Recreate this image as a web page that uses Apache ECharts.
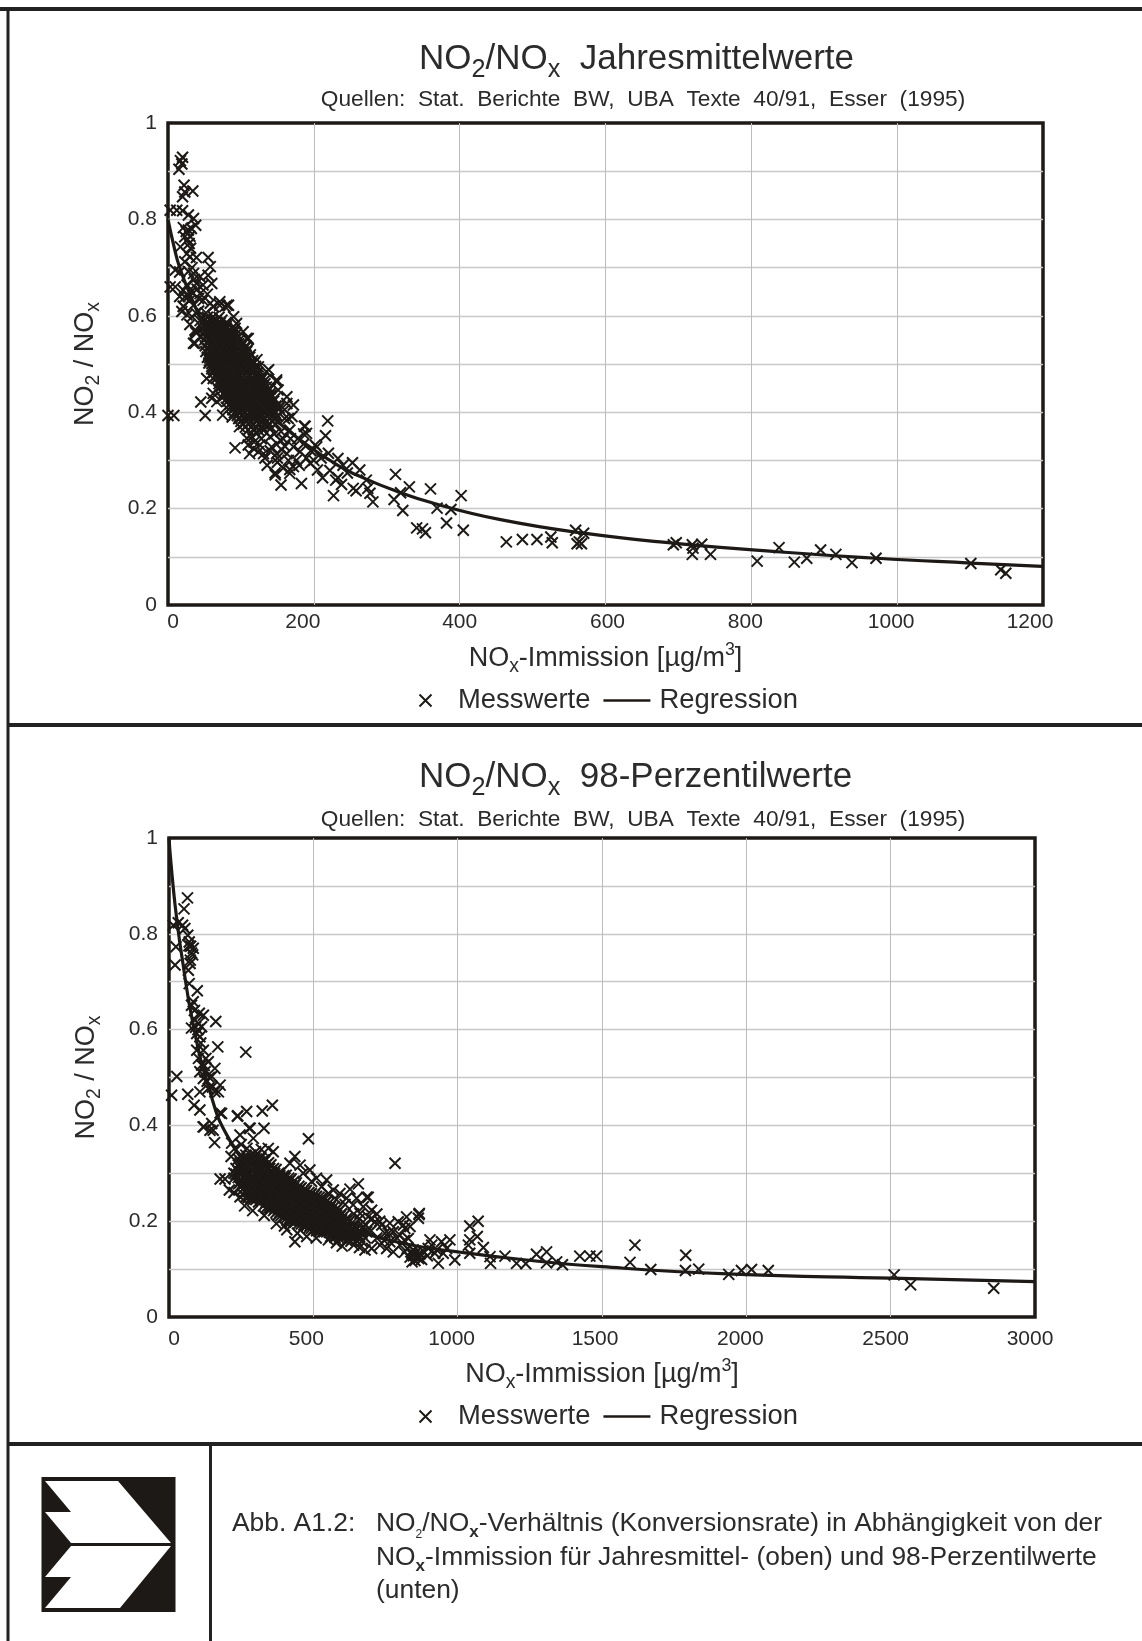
<!DOCTYPE html>
<html>
<head>
<meta charset="utf-8">
<title>NO2/NOx</title>
<script src="https://cdn.jsdelivr.net/npm/echarts@6/dist/echarts.min.js"></script>
<style>
  html, body { margin: 0; padding: 0; background: #fff; }
  #chart { width: 1142px; height: 1641px; }
</style>
</head>
<body>
<div id="chart"></div>
<script>
// Jahresmittelwerte: readings
const topOutliers = [
  [312,.271],[331,.245],[360,.241],[402,.227],[310,.219],[319,.233],[322,.196],[369,.201],[388,.198],[382,.170],
  [341,.160],[349,.158],[353,.150],[405,.155],[464,.131],[486,.136],[506,.136],[525,.141],[527,.129],[559,.155],
  [570,.149],[564,.131],[567,.127],[561,.127],[697,.129],[693,.125],[719,.125],[732,.126],[720,.118],[719,.105],
  [744,.105],[808,.091],[838,.119],[859,.089],[876,.097],[895,.114],[916,.105],[938,.088],[971,.097],[1101,.086],
  [1142,.073],[1149,.066]
];
const topTail = [
  [219,.382],[216,.351],[187,.371],[186,.355],[165,.387],[202,.332],[220,.315],[233,.304],[253,.295],[263,.280],
  [272,.259],[230,.259],[233,.264],[254,.242],[258,.237],[227,.227],[205,.280],[195,.294],[222,.279],[183,.252],
  [155,.249],[147,.270],[167,.273],[172,.287],[158,.284],[277,.232],[281,.214],[274,.242],[92,.326],[45,.421],
  [51,.393],[75,.394],[0,.393],[8,.393],[149,.467],[135,.484],[163,.432],[172,.415],[151,.446],[140,.439],
  [160,.387],[188,.371],[190,.356],[204,.328],[167,.363],[115,.349],[122,.356],[131,.363],[140,.349],[126,.332],
  [110,.332],[154,.342],[172,.328],[181,.318],[142,.328],[149,.314],[163,.314],[131,.314],[112,.314],[147,.274],
  [167,.281],[133,.305],[117,.325],[108,.346],[149,.463],[163,.418],[138,.488],[122,.509],[170,.391],[178,.345],
  [186,.334],[150,.296],[176,.300],[160,.330],[196,.320],[210,.305],[240,.290],[246,.274],[212,.264],[238,.250],
  [148,.375],[155,.360],[145,.395],[152,.410],[136,.372],[128,.345],[146,.355],[158,.345],[168,.345],[140,.320],
  [124,.318],[118,.338],[156,.322],[190,.305],[200,.300],[180,.290],[165,.300],[150,.305],[136,.290],[160,.405]
];
const topUpper = [
  [20,.929],[17,.922],[19,.915],[15,.904],[22,.871],[34,.859],[20,.847],[23,.857],[3,.819],[12,.819],
  [20,.818],[28,.809],[35,.802],[38,.788],[21,.783],[28,.778],[32,.781],[23,.764],[29,.750],[17,.743],
  [31,.740],[26,.729],[30,.722],[39,.721],[55,.721],[58,.702],[23,.712],[10,.695],[16,.691],[44,.681],
  [55,.684],[35,.688],[60,.667],[10,.660],[3,.660],[26,.664],[39,.667],[48,.664],[21,.653],[32,.650],
  [44,.646],[23,.639],[30,.632],[21,.619],[35,.622],[48,.632],[58,.626],[71,.629],[83,.622],[62,.619],
  [19,.609],[26,.602],[21,.620],[38,.567],[35,.543],[62,.619],[78,.619],[108,.553],[92,.574],[37,.570],
  [37,.543],[39,.564],[53,.470],[62,.439],[60,.429],[67,.422],[94,.584],[103,.567],[110,.553],[71,.622],
  [81,.622],[90,.598],[124,.494],[33,.598],[42,.610],[52,.606],[30,.582],[44,.590],[25,.775],[30,.765],
  [27,.758],[33,.700],[40,.655],[28,.640],[36,.676],[28,.692],[42,.636],[54,.645],[16,.640],[38,.606]
];
const topCluster = [
  [52,.585],[60,.587],[68,.584],
  [53,.573],[61,.574],[69,.572],[76,.574],
  [54,.561],[62,.562],[69,.560],[77,.562],[84,.560],
  [56,.549],[63,.550],[71,.548],[78,.550],[85,.548],[92,.549],
  [57,.537],[64,.538],[71,.536],[79,.538],[86,.536],[93,.537],[100,.536],
  [58,.525],[65,.526],[72,.524],[79,.526],[86,.524],[94,.525],[103,.524],
  [57,.513],[64,.514],[71,.512],[78,.514],[86,.512],[93,.514],[100,.512],[108,.513],
  [60,.501],[67,.502],[75,.500],[82,.502],[89,.500],[97,.502],[105,.500],[113,.501],
  [63,.489],[71,.490],[78,.488],[86,.490],[94,.488],[102,.490],[110,.488],[118,.489],
  [66,.477],[74,.478],[81,.476],[89,.478],[97,.476],[105,.478],[113,.476],[122,.477],
  [70,.465],[77,.466],[84,.464],[91,.466],[98,.464],[105,.466],[112,.464],[119,.466],[126,.464],
  [73,.453],[80,.454],[87,.452],[94,.454],[101,.452],[109,.454],[116,.452],[123,.454],[130,.453],
  [77,.441],[84,.442],[91,.440],[98,.442],[105,.440],[112,.442],[119,.440],[127,.442],[134,.441],
  [81,.429],[88,.430],[95,.428],[102,.430],[109,.428],[116,.430],[123,.428],[131,.430],[138,.429],
  [85,.417],[92,.418],[99,.416],[106,.418],[113,.416],[120,.418],[127,.416],[134,.418],[141,.417],
  [89,.405],[96,.406],[103,.404],[110,.406],[117,.404],[124,.406],[131,.404],[138,.406],[144,.405],
  [95,.393],[102,.394],[110,.392],[118,.394],[126,.392],[135,.394],[143,.393],
  [100,.381],[107,.382],[114,.380],[121,.382],[129,.380],[136,.381],
  [106,.369],[114,.370],[122,.368],[130,.369]
];
const topCore = [
  [50,.591],[58,.592],[66,.590],[74,.591],
  [50,.579],[57,.580],[65,.578],[72,.580],[80,.579],
  [50,.567],[58,.568],[65,.566],[73,.568],[81,.566],[88,.567],
  [52,.555],[59,.556],[67,.554],[74,.556],[81,.554],[89,.556],[96,.555],
  [54,.543],[61,.544],[68,.542],[76,.544],[83,.542],[90,.544],[97,.542],[104,.543],
  [54,.531],[61,.532],[68,.530],[75,.532],[83,.530],[90,.532],[97,.530],[105,.532],[110,.531],
  [56,.519],[63,.520],[70,.518],[77,.520],[84,.518],[91,.520],[98,.518],[106,.520],[113,.519],
  [57,.507],[64,.508],[72,.506],[79,.508],[86,.506],[94,.508],[101,.506],[108,.508],[116,.507],
  [60,.495],[67,.496],[75,.494],[82,.496],[90,.494],[97,.496],[105,.494],[112,.496],[120,.495],
  [63,.483],[70,.484],[78,.482],[85,.484],[93,.482],[100,.484],[108,.482],[115,.484],[123,.483],
  [67,.471],[74,.472],[81,.470],[88,.472],[95,.470],[102,.472],[109,.470],[116,.472],[123,.470],[130,.471],
  [70,.459],[77,.460],[84,.458],[91,.460],[98,.458],[105,.460],[112,.458],[119,.460],[126,.458],[133,.459],
  [74,.447],[81,.448],[88,.446],[95,.448],[102,.446],[109,.448],[116,.446],[123,.448],[130,.446],[137,.447],
  [78,.435],[85,.436],[92,.434],[99,.436],[106,.434],[113,.436],[120,.434],[127,.436],[134,.434],[141,.435],
  [82,.423],[89,.424],[96,.422],[103,.424],[110,.422],[117,.424],[124,.422],[131,.424],[138,.422],[145,.423],
  [86,.411],[93,.412],[100,.410],[107,.412],[114,.410],[121,.412],[128,.410],[135,.412],[142,.410],[148,.411],
  [91,.399],[98,.400],[105,.398],[112,.400],[119,.398],[126,.400],[133,.398],[140,.400],[147,.399],
  [97,.387],[104,.388],[111,.386],[118,.388],[125,.386],[132,.388],[139,.387],
  [103,.375],[110,.376],[117,.374],[124,.376],[131,.375],
  [110,.363],[117,.364],[124,.363]
];
const topDense = [
  [54,.597],[62,.598],[70,.597],
  [47,.586],[56,.586],[64,.587],[72,.586],[80,.586],
  [48,.574],[56,.574],[64,.575],[72,.574],[80,.574],[88,.575],
  [49,.562],[57,.562],[65,.563],[73,.562],[81,.562],[89,.563],[94,.562],
  [50,.550],[58,.550],[66,.551],[74,.550],[82,.550],[90,.551],[98,.550],
  [51,.538],[60,.538],[68,.539],[76,.538],[84,.538],[92,.539],[100,.538],[107,.538],
  [52,.526],[60,.526],[68,.527],[76,.526],[84,.526],[92,.527],[100,.526],[108,.526],
  [54,.514],[62,.514],[70,.515],[80,.514],[88,.514],[96,.515],[104,.514],[112,.514],
  [56,.502],[64,.502],[72,.503],[80,.502],[88,.502],[96,.503],[104,.502],[112,.502],[118,.502],
  [60,.490],[68,.490],[76,.491],[84,.490],[92,.490],[100,.491],[108,.490],[116,.490],[122,.490],
  [62,.470],[128,.472],[134,.468],[68,.450],[135,.452],[140,.448],[74,.430],[142,.432],[146,.428],
  [80,.410],[148,.413],[152,.408],[88,.390],[150,.392],[146,.386],[98,.370],[138,.372],[142,.368]
];
const topRegression = [
  [0,.80],[8,.745],[16,.70],[30,.645],[44,.598],[70,.53],[100,.465],[140,.395],[190,.333],[236,.287],[263,.267],
  [310,.238],[369,.209],[456,.177],[570,.149],[696,.128],[841,.11],[972,.097],[1101,.087],[1199,.08]
];

// 98-Perzentilwerte: readings
const lowOutliers = [
  [1071,.200],[1042,.190],[1068,.168],[1042,.161],[1037,.150],[1089,.145],[1112,.126],[1114,.112],[904,.161],[973,.161],
  [944,.157],[898,.143],[962,.143],[933,.112],[990,.119],[921,.133],[950,.133],[1042,.133],[1164,.127],[1204,.112],
  [1236,.111],[1273,.131],[1308,.136],[1308,.113],[1343,.115],[1363,.109],[1423,.127],[1458,.127],[1481,.127],[1614,.150],
  [1597,.114],[1669,.099],[1790,.129],[1789,.097],[1835,.100],[1939,.089],[1983,.097],[2018,.099],[2076,.097],[2512,.088],
  [2569,.067],[2857,.060],[783,.321],[483,.372],[866,.214],[823,.209],[817,.185],[867,.216],[864,.206]
];
const lowSteep = [
  [64,.875],[52,.852],[47,.818],[32,.823],[15,.818],[55,.811],[65,.797],[70,.783],[75,.774],[84,.770],
  [82,.756],[24,.773],[21,.735],[73,.738],[67,.724],[70,.696],[98,.681],[84,.658],[78,.651],[105,.634],
  [119,.630],[162,.617],[90,.620],[102,.613],[113,.606],[78,.603],[96,.592],[107,.585],[119,.557],[96,.557],
  [169,.564],[266,.553],[102,.540],[136,.533],[113,.526],[159,.519],[125,.512],[107,.512],[148,.502],[119,.498],
  [27,.502],[9,.463],[65,.465],[177,.484],[159,.470],[136,.477],[171,.470],[107,.470],[87,.442],[107,.432],
  [182,.425],[237,.419],[269,.429],[323,.430],[358,.442],[121,.397],[148,.404],[142,.390],[281,.394],[329,.394],
  [246,.380],[292,.373],[158,.364],[118,.397],[153,.390],[238,.420],[177,.426],[278,.394],[217,.363],[344,.352],
  [361,.345],[69,.775],[78,.760],[74,.745],[100,.600],[92,.605],[88,.640],[110,.572],[128,.540],[122,.525],
  [140,.500],[132,.492],[150,.480]
];
const lowEdge = [
  [177,.288],[194,.288],[209,.265],[246,.251],[436,.157],[408,.182],[477,.168],[552,.161],[546,.286],[656,.278],
  [627,.267],[690,.250],[215,.335],[228,.352],[250,.360],[270,.352],[300,.345],[320,.350],[225,.260],[262,.232],
  [290,.222],[330,.212],[372,.195],[400,.190],[445,.175],[510,.165],[580,.155],[640,.150],[660,.145],[600,.148]
];
const lowHatch = [
  [436,.335],[419,.321],[454,.317],[488,.307],[465,.300],[511,.290],[494,.283],[529,.272],[569,.265],[552,.258],
  [592,.258],[615,.248],[650,.248],[638,.234],[685,.250],[673,.230],[702,.223],[662,.216],[690,.209],[714,.199],
  [673,.189],[737,.192],[765,.196],[794,.199],[812,.192],[835,.189],[777,.178],[748,.175],[800,.171],[829,.164],
  [765,.157],[731,.150],[702,.143],[679,.140],[777,.136],[754,.143],[800,.150],[720,.165],[700,.180],[745,.160],
  [660,.205],[640,.215],[610,.235],[580,.245],[700,.205],[720,.215],[815,.160],[790,.165],[760,.175],[730,.200],
  [825,.143],[838,.136],[846,.128],[855,.135],[846,.140],[860,.125],[870,.132],[835,.125],[852,.118],[842,.115],
  [875,.120],[880,.138],[895,.128],[910,.150],[928,.140],[815,.135],[850,.130],[858,.128],[865,.122],[842,.132]
];
const lowCluster = [
  [225,.300],[225,.290],
  [240,.330],[240,.317],[240,.304],[240,.291],[240,.278],
  [257,.332],[257,.319],[257,.306],[257,.293],[257,.280],[257,.267],[257,.255],
  [275,.326],[275,.313],[275,.300],[275,.287],[275,.274],[275,.262],[275,.250],
  [292,.332],[292,.319],[292,.306],[292,.293],[292,.280],[292,.267],[292,.255],[292,.245],
  [310,.326],[310,.313],[310,.300],[310,.287],[310,.274],[310,.262],[310,.250],[310,.240],
  [327,.328],[327,.315],[327,.302],[327,.289],[327,.276],[327,.263],[327,.250],[327,.232],
  [345,.322],[345,.309],[345,.296],[345,.283],[345,.270],[345,.257],[345,.244],[345,.227],
  [362,.310],[362,.297],[362,.284],[362,.271],[362,.258],[362,.245],[362,.232],[362,.222],
  [380,.300],[380,.287],[380,.274],[380,.261],[380,.248],[380,.235],[380,.224],[380,.214],
  [397,.295],[397,.282],[397,.269],[397,.256],[397,.243],[397,.230],[397,.218],[397,.208],
  [415,.290],[415,.277],[415,.264],[415,.251],[415,.238],[415,.226],[415,.214],[415,.203],
  [432,.283],[432,.270],[432,.257],[432,.244],[432,.231],[432,.218],[432,.200],
  [450,.273],[450,.260],[450,.247],[450,.234],[450,.221],[450,.208],[450,.196],
  [467,.265],[467,.252],[467,.239],[467,.226],[467,.213],[467,.202],[467,.192],
  [485,.260],[485,.247],[485,.234],[485,.221],[485,.208],[485,.197],[485,.186],
  [502,.254],[502,.241],[502,.228],[502,.215],[502,.202],[502,.192],[502,.183],
  [520,.250],[520,.237],[520,.224],[520,.211],[520,.198],[520,.189],[520,.181],
  [537,.244],[537,.231],[537,.218],[537,.205],[537,.192],[537,.178],
  [555,.238],[555,.225],[555,.212],[555,.199],[555,.188],[555,.177],
  [572,.230],[572,.217],[572,.204],[572,.192],[572,.175],
  [590,.222],[590,.209],[590,.196],[590,.185],[590,.175],
  [607,.212],[607,.199],[607,.186],[607,.172],
  [625,.200],[625,.187],[625,.170],
  [642,.190],[642,.178],[642,.170],
  [660,.180],[660,.168]
];
const lowCore = [
  [232,.310],[232,.298],
  [248,.336],[248,.323],[248,.310],[248,.297],[248,.284],[248,.271],
  [266,.338],[266,.325],[266,.312],[266,.299],[266,.286],[266,.273],[266,.260],[266,.250],
  [283,.338],[283,.325],[283,.312],[283,.299],[283,.286],[283,.273],[283,.260],[283,.248],
  [301,.336],[301,.323],[301,.310],[301,.297],[301,.284],[301,.271],[301,.258],[301,.245],
  [318,.334],[318,.321],[318,.308],[318,.295],[318,.282],[318,.269],[318,.256],[318,.243],
  [336,.330],[336,.317],[336,.304],[336,.291],[336,.278],[336,.265],[336,.252],[336,.239],[336,.228],
  [353,.318],[353,.305],[353,.292],[353,.279],[353,.266],[353,.253],[353,.240],[353,.228],
  [371,.308],[371,.295],[371,.282],[371,.269],[371,.256],[371,.243],[371,.230],[371,.218],
  [388,.302],[388,.289],[388,.276],[388,.263],[388,.250],[388,.237],[388,.224],[388,.212],
  [406,.296],[406,.283],[406,.270],[406,.257],[406,.244],[406,.231],[406,.218],[406,.206],
  [423,.288],[423,.275],[423,.262],[423,.249],[423,.236],[423,.223],[423,.210],[423,.200],
  [441,.280],[441,.267],[441,.254],[441,.241],[441,.228],[441,.215],[441,.202],
  [458,.270],[458,.257],[458,.244],[458,.231],[458,.218],[458,.205],[458,.194],
  [476,.264],[476,.251],[476,.238],[476,.225],[476,.212],[476,.199],[476,.190],
  [493,.258],[493,.245],[493,.232],[493,.219],[493,.206],[493,.193],[493,.185],
  [511,.252],[511,.239],[511,.226],[511,.213],[511,.200],[511,.187],[511,.180],
  [528,.248],[528,.235],[528,.222],[528,.209],[528,.196],[528,.183],
  [546,.242],[546,.229],[546,.216],[546,.203],[546,.190],[546,.178],
  [563,.234],[563,.221],[563,.208],[563,.195],[563,.182],[563,.174],
  [581,.226],[581,.213],[581,.200],[581,.187],[581,.174],
  [598,.216],[598,.203],[598,.190],[598,.177],
  [616,.206],[616,.193],[616,.180],[616,.170],
  [633,.196],[633,.183],[633,.172],
  [651,.186],[651,.174],
  [600,.165],[615,.160],[630,.158],[650,.160],[668,.158],[680,.165],[668,.175],[685,.178],[640,.165],[655,.170],
  [590,.164],[575,.166],[560,.168],[670,.185],[682,.192],[610,.182],[625,.176],[640,.182]
];
const lowDense = [
  [245,.320],[245,.300],[245,.280],
  [262,.330],[262,.310],[262,.290],[262,.270],
  [279,.330],[279,.310],[279,.290],[279,.270],[279,.255],
  [297,.330],[297,.310],[297,.290],[297,.270],[297,.250],
  [314,.330],[314,.310],[314,.290],[314,.270],[314,.250],
  [331,.325],[331,.305],[331,.285],[331,.265],[331,.245],
  [349,.310],[349,.298],[349,.285],[349,.272],[349,.260],[349,.247],[349,.234],
  [366,.300],[366,.288],[366,.275],[366,.262],[366,.250],[366,.237],[366,.225],
  [384,.295],[384,.282],[384,.270],[384,.256],[384,.244],[384,.230],[384,.218],
  [402,.290],[402,.278],[402,.265],[402,.250],[402,.238],[402,.225],[402,.212],
  [419,.285],[419,.270],[419,.258],[419,.245],[419,.232],[419,.219],[419,.206],
  [437,.276],[437,.263],[437,.250],[437,.237],[437,.224],[437,.210],[437,.198],
  [454,.268],[454,.255],[454,.242],[454,.229],[454,.216],[454,.203],
  [471,.260],[471,.247],[471,.234],[471,.221],[471,.208],[471,.195],
  [489,.255],[489,.242],[489,.229],[489,.216],[489,.203],[489,.190],
  [507,.250],[507,.237],[507,.224],[507,.211],[507,.198],[507,.186],
  [524,.244],[524,.231],[524,.218],[524,.205],[524,.192],[524,.180],
  [541,.238],[541,.225],[541,.212],[541,.199],[541,.186],
  [559,.230],[559,.217],[559,.204],[559,.191],[559,.178],
  [576,.222],[576,.209],[576,.196],[576,.183],[576,.170],
  [594,.212],[594,.199],[594,.186],[594,.173],
  [611,.200],[611,.187],[611,.174]
];
const lowRegression = [
  [0,1.0],[5,.96],[15,.895],[25,.84],[44,.755],[84,.61],[142,.47],[204,.376],[300,.30],[400,.25],[500,.215],
  [650,.18],[826,.152],[1000,.136],[1222,.12],[1500,.105],[1936,.09],[2500,.081],[3000,.074]
];

const topXTicks = [0, 200, 400, 600, 800, 1000, 1200];
const lowXTicks = [0, 500, 1000, 1500, 2000, 2500, 3000];
const yTickLabels = ['0', '0.2', '0.4', '0.6', '0.8', '1'];

const INK = '#1c1916';
const TEXT = '#2b2b2b';
const FONT = '"Liberation Sans", Arial, sans-serif';
const CROSS = 'path://M0 0L10 10M10 0L0 10';
// the zero-length pieces hold the icon box open so the bar stays thin
const LEGEND_LINE = 'path://M0 0L0 0M47 12L47 12M0 4.7H47V7.3H0Z';
const SUBTITLE = 'Quellen:  Stat.  Berichte  BW,  UBA  Texte  40/91,  Esser  (1995)';

function richText(size) {
  return {
    n: { fontSize: size, color: TEXT, fontFamily: FONT, lineHeight: size * 1.3 },
    s: { fontSize: size * 0.72, color: TEXT, fontFamily: FONT, verticalAlign: 'bottom', lineHeight: size * 0.72 },
    p: { fontSize: size * 0.66, color: TEXT, fontFamily: FONT, verticalAlign: 'top', lineHeight: size * 0.66 }
  };
}

function makeGrid(top, bottom, left, right) {
  return { left: left, width: right - left, top: top, height: bottom - top, show: true,
    backgroundColor: '#fff', borderColor: INK, borderWidth: 3.5 };
}

function makeXAxis(idx, ticks, shifts, nameGap, labelMargin) {
  // the printed tick numbers sit slightly off their gridlines in the original
  const labelRich = {};
  ticks.forEach((t, i) => {
    const s = shifts[i] * 2;
    labelRich['l' + i] = { color: TEXT, fontSize: 21, fontFamily: FONT, padding: s > 0 ? [0, 0, 0, s] : [0, -s, 0, 0] };
  });
  return {
    type: 'value', gridIndex: idx, min: ticks[0], max: ticks[ticks.length - 1], interval: ticks[1] - ticks[0],
    name: '{n|NO}{s|x}{n|-Immission [µg/m}{p|3}{n|]}', nameLocation: 'middle', nameGap: nameGap,
    nameTextStyle: { rich: richText(27) },
    axisLine: { show: false }, axisTick: { show: false },
    axisLabel: { margin: labelMargin, rich: labelRich, formatter: v => '{l' + ticks.indexOf(v) + '|' + v + '}' },
    splitLine: { show: true, showMinLine: false, showMaxLine: false, lineStyle: { color: '#bdbdbd', width: 1 } }
  };
}

function makeYAxis(idx) {
  return {
    type: 'value', gridIndex: idx, min: 0, max: 1, interval: 0.1,
    name: '{n|NO}{s|2}{n| / NO}{s|x}', nameLocation: 'middle', nameRotate: 90, nameGap: 65,
    nameTextStyle: { rich: richText(27) },
    axisLine: { show: false }, axisTick: { show: false },
    axisLabel: {
      color: TEXT, fontSize: 21, fontFamily: FONT, margin: 11,
      formatter: v => { const i = Math.round(v * 10); return i % 2 === 0 ? yTickLabels[i / 2] : ''; }
    },
    splitLine: { show: true, showMinLine: false, showMaxLine: false, lineStyle: { color: '#c8c8c8', width: 1.4 } }
  };
}

function scatter(idx, data) {
  return {
    name: 'Messwerte', type: 'scatter', xAxisIndex: idx, yAxisIndex: idx, data: data,
    symbol: CROSS, symbolSize: 11, symbolKeepAspect: true, clip: false, silent: true,
    itemStyle: { color: 'none', borderColor: INK, borderWidth: 2, opacity: 1 }, z: 3
  };
}

function regression(idx, data) {
  return {
    name: 'Regression', type: 'line', xAxisIndex: idx, yAxisIndex: idx, data: data, showSymbol: false, symbol: 'none',
    smooth: 0.5, silent: true, itemStyle: { color: INK }, lineStyle: { color: INK, width: 3.2 }, z: 4
  };
}

function makeLegend(top) {
  return {
    left: 417, top: top, itemWidth: 47, itemHeight: 12, itemGap: 13, selectedMode: false, padding: 0,
    data: ['Messwerte', { name: 'Regression', icon: LEGEND_LINE }],
    textStyle: { color: TEXT, fontSize: 27.4, fontFamily: FONT, padding: [0, 0, 0, 4] }
  };
}

function frameLine(x1, y1, x2, y2, w) {
  return { type: 'line', silent: true, shape: { x1, y1, x2, y2 }, style: { stroke: '#222', lineWidth: w } };
}

const logoUpper = [[45,1481],[118,1481],[171,1543],[71,1543],[45,1512],[71,1512]];
const logoLower = [[71,1546],[171,1546],[120,1608],[45,1608],[71,1577],[45,1577]];

const caption = [
  { x: 232, y: 1524, text: '{c|Abb. A1.2:}' },
  { x: 376, y: 1524, text: '{c|NO}{u|2}{c|/NO}{b|x}{c|-Verhältnis (Konversionsrate) in Abhängigkeit von der}' },
  { x: 376, y: 1558, text: '{c|NO}{b|x}{c|-Immission für Jahresmittel- (oben) und 98-Perzentilwerte}' },
  { x: 376, y: 1591, text: '{c|(unten)}' }
];
const captionRich = {
  c: { fontSize: 26.4, fontFamily: FONT, fill: TEXT, lineHeight: 34 },
  u: { fontSize: 12, fontFamily: FONT, fill: TEXT, verticalAlign: 'bottom', lineHeight: 12 },
  b: { fontSize: 17, fontWeight: 'bold', fontFamily: FONT, fill: TEXT, verticalAlign: 'bottom', lineHeight: 17 }
};

function titleEntry(text, left, top, size, align) {
  return { text: text, left: left, top: top, textAlign: align, padding: 0,
    textStyle: { rich: richText(size), fontWeight: 'normal', fontSize: size, color: TEXT, fontFamily: FONT } };
}

const chart = echarts.init(document.getElementById('chart'), null, { renderer: 'canvas' });
chart.setOption({
  animation: false,
  backgroundColor: '#fff',
  title: [
    titleEntry('{n|NO}{s|2}{n|/NO}{s|x}{n|  Jahresmittelwerte}', 419, 37, 35, 'left'),
    titleEntry(SUBTITLE, 643, 88, 22.7, 'center'),
    titleEntry('{n|NO}{s|2}{n|/NO}{s|x}{n|  98-Perzentilwerte}', 419, 755, 35, 'left'),
    titleEntry(SUBTITLE, 643, 808, 22.7, 'center')
  ],
  grid: [makeGrid(123, 605, 168, 1043), makeGrid(838, 1317, 169, 1035)],
  xAxis: [
    makeXAxis(0, topXTicks, [5, -11, 0, 2, -6, -6, -13], 36, 7),
    makeXAxis(1, lowXTicks, [5, -7, -6, -7, -6, -5, -5], 40, 12)
  ],
  yAxis: [makeYAxis(0), makeYAxis(1)],
  legend: [makeLegend(687), makeLegend(1403)],
  series: [
    scatter(0, [].concat(topOutliers, topTail, topUpper, topCluster, topCore, topDense)),
    regression(0, topRegression),
    scatter(1, [].concat(lowOutliers, lowSteep, lowEdge, lowHatch, lowCluster, lowCore, lowDense)),
    regression(1, lowRegression)
  ],
  graphic: [
    frameLine(0, 9, 1142, 9, 4),
    frameLine(8, 8, 8, 1641, 3),
    frameLine(8, 725, 1142, 725, 4),
    frameLine(8, 1444, 1142, 1444, 4),
    frameLine(210.5, 1444, 210.5, 1641, 3),
    { type: 'rect', silent: true, shape: { x: 41.5, y: 1477, width: 134, height: 135 }, style: { fill: '#1c1916' } },
    { type: 'polygon', silent: true, shape: { points: logoUpper }, style: { fill: '#fff' } },
    { type: 'polygon', silent: true, shape: { points: logoLower }, style: { fill: '#fff' } }
  ].concat(caption.map(c => ({
    type: 'text', silent: true, x: c.x, y: c.y,
    style: { text: c.text, rich: captionRich, fill: TEXT, font: '26.4px ' + FONT, verticalAlign: 'middle' }
  })))
});
</script>
</body>
</html>
